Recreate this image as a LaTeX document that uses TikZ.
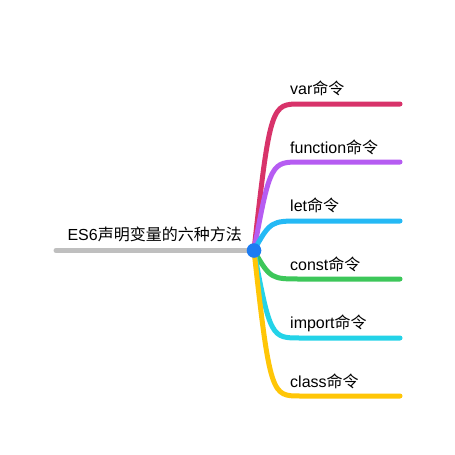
\documentclass[tikz,border=0pt]{standalone}
\usepackage{fontspec}
\setmainfont{Liberation Sans}
\newfontfamily\cjk{Noto Sans CJK SC}
\definecolor{cVar}{HTML}{D8336A}
\definecolor{cFun}{HTML}{B65CF2}
\definecolor{cLet}{HTML}{24B9F5}
\definecolor{cConst}{HTML}{3DC75A}
\definecolor{cImp}{HTML}{24D3E8}
\definecolor{cCls}{HTML}{FFC607}
\definecolor{cDot}{HTML}{1C7CF2}
\definecolor{cGray}{HTML}{BFBFBF}
\begin{document}
\begin{tikzpicture}[x=1pt,y=-1pt,
  br/.style={line width=5pt,line cap=round},
  lbl/.style={anchor=base west,inner sep=0pt,font=\fontsize{16}{18}\selectfont},
  root/.style={anchor=base east,inner sep=0pt,font=\fontsize{16}{18}\selectfont},
  dot/.style={circle,fill=cDot,minimum size=14.6pt,inner sep=0pt}]
\useasboundingbox (0,0) rectangle (455,455);
\fill[white] (0,0) rectangle (455,455);
\coordinate (o) at (254,250.5);
\coordinate (g) at (56,250.5);
\draw[br,cGray] (g) -- (o);
\node[root] (t) at (242,240.5) {ES6{\cjk 声明变量的六种方法}};
% branches
\foreach \y/\c/\n in {104/cVar/e1,162/cFun/e2,221/cLet/e3,279/cConst/e4,338/cImp/e5,396/cCls/e6}{
  \coordinate (\n) at (400,\y);
  \draw[br,\c] (o) .. controls (270,\y) and (272,\y) .. (300,\y) -- (\n);
}
\node[lbl] (l1) at (290,94.5) {var{\cjk 命令}};
\node[lbl] (l2) at (290,153) {function{\cjk 命令}};
\node[lbl] (l3) at (290,211.5) {let{\cjk 命令}};
\node[lbl] (l4) at (290,270) {const{\cjk 命令}};
\node[lbl] (l5) at (290,328.5) {import{\cjk 命令}};
\node[lbl] (l6) at (290,387) {class{\cjk 命令}};
\node[dot] (c) at (o) {};
\end{tikzpicture}
\end{document}
